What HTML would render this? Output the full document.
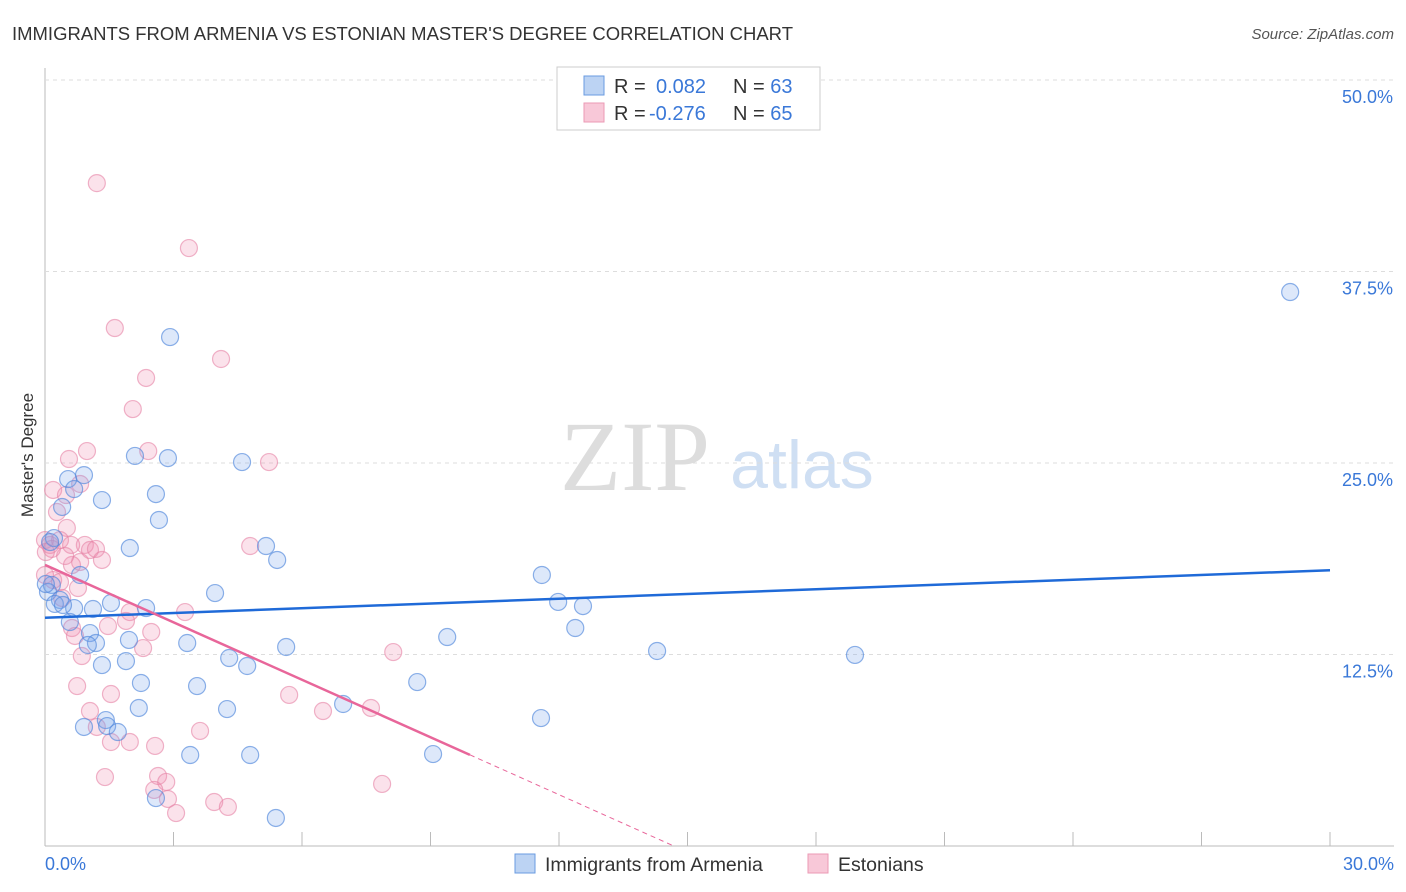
<!DOCTYPE html>
<html><head><meta charset="utf-8"><style>
body{margin:0;background:#fff;font-family:"Liberation Sans",sans-serif}
svg{display:block}
</style></head><body>
<svg id="chart" width="1406" height="892">
<text x="12" y="40" font-size="18" fill="#333" textLength="781" lengthAdjust="spacingAndGlyphs">IMMIGRANTS FROM ARMENIA VS ESTONIAN MASTER'S DEGREE CORRELATION CHART</text>
<text x="1394" y="39" font-size="15" fill="#555" text-anchor="end" font-style="italic">Source: ZipAtlas.com</text>
<text x="635" y="490" font-size="100" fill="#ddd" font-family="Liberation Serif,serif" text-anchor="middle">ZIP</text>
<text x="802" y="488" font-size="68" fill="#cfdff3" text-anchor="middle">atlas</text>
<g id="grid"></g><g id="marks"></g>
<text transform="translate(33,455) rotate(-90)" font-size="17" fill="#333" text-anchor="middle">Master's Degree</text>
<g>
<rect x="557" y="67" width="263" height="63" fill="#fff" stroke="#ccc"/>
<rect x="584" y="76" width="20" height="19" fill="#bcd3f3" stroke="#6a9be0"/>
<rect x="584" y="103" width="20" height="19" fill="#f8c8d8" stroke="#eb9ab5"/>
<text x="614" y="93" font-size="20" fill="#333">R = <tspan x="656" fill="#3a78d8">0.082</tspan><tspan x="733">N = </tspan><tspan fill="#3a78d8">63</tspan></text>
<text x="614" y="120" font-size="20" fill="#333">R = <tspan x="649" fill="#3a78d8">-0.276</tspan><tspan x="733">N = </tspan><tspan fill="#3a78d8">65</tspan></text>
</g>
<g>
<rect x="515" y="854" width="20" height="19" fill="#bcd3f3" stroke="#6a9be0"/>
<text x="545" y="871" font-size="19.5" fill="#333">Immigrants from Armenia</text>
<rect x="808" y="854" width="20" height="19" fill="#f8c8d8" stroke="#eb9ab5"/>
<text x="838" y="871" font-size="19.5" fill="#333">Estonians</text>
</g>
</svg>
<script>
const blueX=[29.07,2.92,2.10,2.87,4.60,0.91,0.54,0.68,2.59,1.33,0.40,2.66,0.21,0.12,1.98,5.16,5.42,11.60,0.82,0.16,0.07,3.97,0.35,1.54,11.98,12.56,0.68,1.12,2.36,0.58,12.38,1.05,9.39,1.96,1.19,1.00,3.32,5.63,14.29,18.91,1.89,4.30,4.72,1.33,2.24,3.55,8.69,2.19,4.25,6.96,11.58,1.42,0.91,1.45,1.70,3.39,4.79,9.06,2.59,5.39,0.02,0.23,0.42];
const blueY=[36.16,33.22,25.46,25.32,25.06,24.21,23.95,23.30,22.97,22.58,22.13,21.28,20.10,19.84,19.45,19.58,18.67,17.69,17.69,17.04,16.58,16.51,16.06,15.86,15.93,15.66,15.53,15.47,15.53,14.62,14.23,13.90,13.64,13.45,13.25,13.12,13.25,12.99,12.73,12.47,12.07,12.27,11.75,11.81,10.64,10.44,10.70,9.01,8.94,9.27,8.35,8.22,7.77,7.83,7.44,5.94,5.94,6.00,3.13,1.83,17.10,15.80,15.73];
const pinkX=[1.21,3.36,1.63,4.11,2.36,2.05,0.98,2.41,0.56,5.23,0.19,0.82,0.49,0.28,0.51,0,0.35,0.12,0.93,0.61,1.05,1.19,1.33,0.82,0.63,0.19,0.77,0,0.40,3.27,1.98,0.63,0.70,2.48,1.89,1.47,2.29,8.13,0.86,0.75,5.70,1.54,6.49,7.61,1.05,1.21,3.62,1.54,1.98,2.57,1.40,2.64,2.83,2.55,2.87,3.95,4.27,3.06,7.87,4.79,0.47,0.16,0.02,0.35];
const pinkY=[43.27,39.03,33.81,31.79,30.55,28.52,25.78,25.78,25.26,25.06,23.24,23.63,22.91,21.80,20.76,19.97,19.97,19.65,19.65,19.65,19.32,19.39,18.67,18.54,18.34,17.36,16.84,17.69,16.19,15.27,15.27,14.23,13.71,13.97,14.69,14.36,12.92,12.66,12.40,10.44,9.86,9.92,8.81,9.01,8.81,7.77,7.51,6.79,6.79,6.53,4.50,4.57,4.18,3.66,3.07,2.87,2.55,2.15,4.05,19.58,18.93,19.39,19.19,17.23];
const yTicks=[12.5,25,37.5,50];
const xTicks=[0,3,6,9,12,15,18,21,24,27,30];
const blueTrend=[14.9,18.0];
const pinkTrend=[18.35,-1.25];
const NS='http://www.w3.org/2000/svg';
const sx=v=>45+v/30*1285, sy=v=>846-v/12.5*191.5;
function mk(t,a,p){const e=document.createElementNS(NS,t);for(const k in a)e.setAttribute(k,a[k]);p.appendChild(e);return e;}
const grid=document.getElementById('grid'), marks=document.getElementById('marks');
let ax=mk('line',{x1:45,y1:68,x2:45,y2:846,stroke:'#bbb'},grid);


let bx=mk('line',{x1:45,y1:846,x2:1394,y2:846,stroke:'#bbb'},grid);


yTicks.forEach(v=>{
 const g=mk('line',{x1:45,x2:1394,y1:sy(v),y2:sy(v),stroke:'#ddd','stroke-dasharray':'4,4'},grid);
 
 
 const t=mk('text',{x:1393,y:sy(v)+23,'font-size':18,fill:'#3a78d8','text-anchor':'end'},grid);
 t.textContent=v.toFixed(1)+'%';
 
 
});
xTicks.forEach(v=>{
 const l=mk('line',{x1:sx(v),x2:sx(v),y1:832,y2:846,stroke:'#bbb'},grid);
 
 
});
[[0,'0.0%',45,'start'],[30,'30.0%',1394,'end']].forEach(d=>{
 const t=mk('text',{x:d[2],y:870,'font-size':18,fill:'#3a78d8','text-anchor':d[3]},grid);
 t.textContent=d[1];
 
 
});
pinkX.forEach((x,i)=>{
 const c=mk('circle',{cx:sx(x),cy:sy(pinkY[i]),r:8.5,fill:'rgba(240,140,175,0.25)',stroke:'rgba(230,130,165,0.6)','stroke-width':1.2},marks);
 
 
});
blueX.forEach((x,i)=>{
 const c=mk('circle',{cx:sx(x),cy:sy(blueY[i]),r:8.5,fill:'rgba(120,165,235,0.25)',stroke:'rgba(80,135,220,0.65)','stroke-width':1.2},marks);
 
 
});
let bl=mk('line',{x1:sx(0),y1:sy(blueTrend[0]),x2:sx(30),y2:sy(blueTrend[1]),stroke:'#1f6ad8','stroke-width':2.5},marks);


const pe=9.92, pz=-pinkTrend[0]/pinkTrend[1];
let pl=mk('line',{x1:sx(0),y1:sy(pinkTrend[0]),x2:sx(pe),y2:sy(pinkTrend[0]+pinkTrend[1]*pe),stroke:'#e8669a','stroke-width':2.5},marks);


let pd=mk('line',{x1:sx(pe),y1:sy(pinkTrend[0]+pinkTrend[1]*pe),x2:sx(pz),y2:sy(0),stroke:'#e8669a','stroke-width':1,'stroke-dasharray':'5,4'},marks);


</script>
</body></html>
